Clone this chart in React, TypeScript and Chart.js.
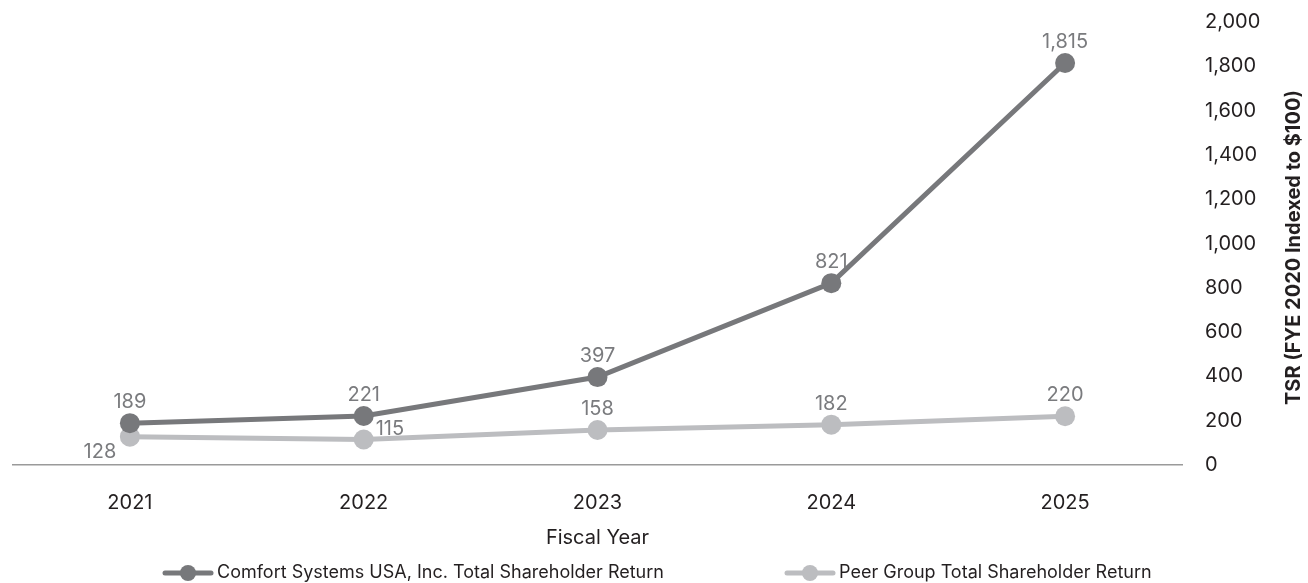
import React, { useEffect, useRef } from "react";
import { Chart, registerables } from "chart.js";

Chart.register(...registerables);

const years = ["2021", "2022", "2023", "2024", "2025"];
const comfortTSR = [189, 221, 397, 821, 1815];
const peerTSR = [128, 115, 158, 182, 220];
const yMin = 0;
const yMax = 2000;
const yStep = 200;
const comfortName = "Comfort Systems USA, Inc. Total Shareholder Return";
const peerName = "Peer Group Total Shareholder Return";
const xTitleText = "Fiscal Year";
const yTitleText = "TSR (FYE 2020 Indexed to $100)";
const comfortLabelPlacement = ["above", "above", "above", "above", "above"];
const peerLabelPlacement = ["belowLeft", "right", "above", "above", "above"];

const FONT = "Inter, 'Open Sans', sans-serif";
const DARK = "#77787b";
const LIGHT = "#bcbdc0";
const TEXT = "#231f20";
const LABEL = "#7a7b7e";

const fmt = (v: number) => v.toLocaleString("en-US");

const dataLabelPlugin = {
  id: "dataLabels",
  afterDatasetsDraw(chart: any) {
    const ctx = chart.ctx;
    const placements = [comfortLabelPlacement, peerLabelPlacement];
    ctx.save();
    ctx.font = `20px ${FONT}`;
    ctx.fillStyle = LABEL;
    ctx.textBaseline = "middle";
    chart.data.datasets.forEach((ds: any, i: number) => {
      const meta = chart.getDatasetMeta(i);
      meta.data.forEach((pt: any, j: number) => {
        const v = ds.data[j];
        const p = placements[i][j];
        let dx = 0;
        let dy = -21;
        let align: CanvasTextAlign = "center";
        if (p === "belowLeft") {
          dx = -30;
          dy = 15;
        } else if (p === "right") {
          dx = 12;
          dy = -11;
          align = "left";
        }
        ctx.textAlign = align;
        ctx.fillText(fmt(v), pt.x + dx, pt.y + dy);
      });
    });
    ctx.restore();
  },
};

const decorPlugin = {
  id: "decor",
  afterDraw(chart: any) {
    const ctx = chart.ctx;
    const area = chart.chartArea;
    ctx.save();
    // rotated y-axis title
    ctx.translate(chart.width - 14, (area.top + area.bottom) / 2 + 4);
    ctx.rotate(-Math.PI / 2);
    ctx.font = `bold 20px ${FONT}`;
    ctx.fillStyle = TEXT;
    ctx.textAlign = "center";
    ctx.textBaseline = "middle";
    ctx.fillText(yTitleText, 0, 0);
    ctx.restore();

    // legend
    const items = [
      { name: comfortName, color: DARK, x: 165 },
      { name: peerName, color: LIGHT, x: 787 },
    ];
    const ly = 573;
    items.forEach((it) => {
      ctx.save();
      ctx.strokeStyle = it.color;
      ctx.lineWidth = 5;
      ctx.lineCap = "round";
      ctx.beginPath();
      ctx.moveTo(it.x, ly);
      ctx.lineTo(it.x + 46, ly);
      ctx.stroke();
      ctx.fillStyle = it.color;
      ctx.beginPath();
      ctx.arc(it.x + 23, ly, 8, 0, Math.PI * 2);
      ctx.fill();
      ctx.font = `18px ${FONT}`;
      ctx.fillStyle = TEXT;
      ctx.textAlign = "left";
      ctx.textBaseline = "middle";
      ctx.fillText(it.name, it.x + 52, ly);
      ctx.restore();
    });
  },
};

export default function App() {
  const ref = useRef<HTMLCanvasElement | null>(null);

  useEffect(() => {
    if (!ref.current) return;
    const chart = new Chart(ref.current, {
      type: "line",
      data: {
        labels: years,
        datasets: [
          {
            label: comfortName,
            data: comfortTSR,
            borderColor: DARK,
            backgroundColor: DARK,
            borderWidth: 5,
            pointRadius: 10,
            pointBackgroundColor: DARK,
            pointBorderWidth: 0,
            tension: 0,
            clip: false as any,
          },
          {
            label: peerName,
            data: peerTSR,
            borderColor: LIGHT,
            backgroundColor: LIGHT,
            borderWidth: 5,
            pointRadius: 10,
            pointBackgroundColor: LIGHT,
            pointBorderWidth: 0,
            tension: 0,
            clip: false as any,
          },
        ],
      },
      options: {
        responsive: false,
        animation: false,
        layout: { padding: { left: 13, top: 22, right: 0, bottom: 0 } },
        plugins: {
          legend: { display: false },
          tooltip: { enabled: false },
        },
        scales: {
          x: {
            type: "category",
            offset: true,
            grid: { display: false, drawTicks: false },
            border: { display: true, color: "#9a9a9a", width: 1.5 },
            ticks: {
              color: TEXT,
              font: { family: FONT, size: 20 },
              padding: 26,
            },
            title: {
              display: true,
              text: xTitleText,
              color: TEXT,
              font: { family: FONT, size: 20 },
              padding: { top: 0, bottom: 33 },
            },
            afterFit(scale: any) {
              scale.height = 118;
              scale.paddingLeft = 0;
              scale.paddingRight = 0;
            },
          },
          y: {
            position: "right",
            min: yMin,
            max: yMax,
            grid: { display: false, drawTicks: false },
            border: { display: false },
            ticks: {
              stepSize: yStep,
              color: TEXT,
              font: { family: FONT, size: 20 },
              padding: 23,
              callback: (v: any) => fmt(Number(v)),
            },
            afterFit(scale: any) {
              scale.width = 126;
              scale.paddingTop = 0;
              scale.paddingBottom = 0;
            },
          },
        },
      },
      plugins: [dataLabelPlugin, decorPlugin],
    });
    return () => chart.destroy();
  }, []);

  return (
    <div style={{ position: "fixed", left: 0, top: 0, width: 1308, height: 583, background: "#fff" }}>
      <canvas ref={ref} width={1308} height={583} />
    </div>
  );
}
